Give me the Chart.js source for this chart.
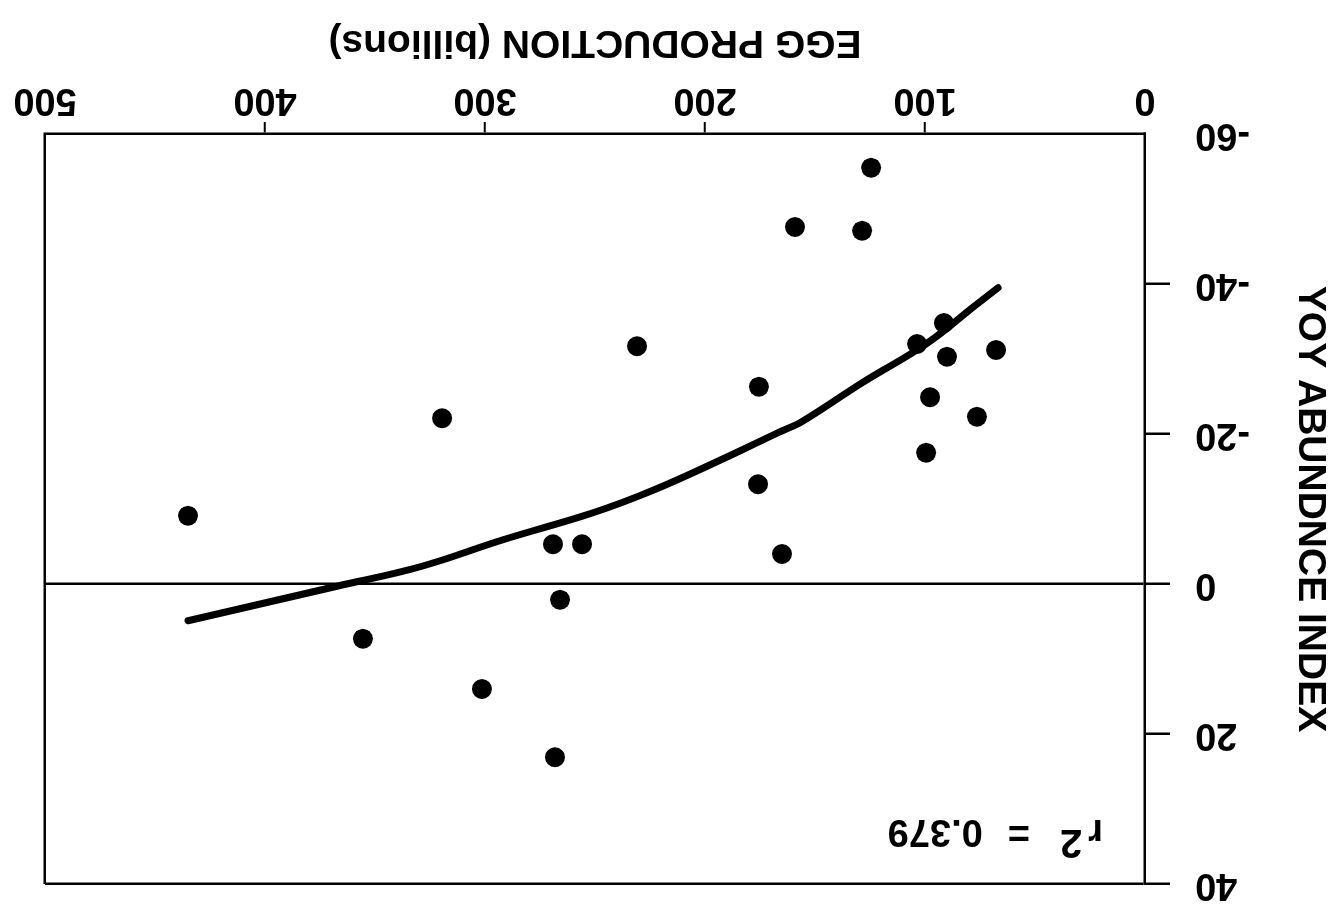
<!DOCTYPE html>
<html>
<head>
<meta charset="utf-8">
<script src="https://cdn.jsdelivr.net/npm/chart.js@4/dist/chart.umd.min.js"></script>
<style>
  html, body { margin: 0; padding: 0; background: #ffffff; }
  #wrap { width: 1340px; height: 909px; position: relative; }
  #c { display: block; transform: rotate(180deg); }
</style>
</head>
<body>
<div id="wrap"><canvas id="c" width="1340" height="909"></canvas></div>
<script>
// ---- data ----
const eggProduction = [124.5, 159.1, 128.6, 91.4, 103.6, 90.0, 67.7, 230.9, 175.5, 97.7, 76.4, 319.5, 99.5, 175.9, 435.0, 269.1, 255.9, 165.0, 265.9, 355.5, 301.4, 268.2];
const yoyIndex      = [-55.5, -47.6, -47.1, -34.8, -32.0, -30.3, -31.2, -31.7, -26.3, -24.9, -22.3, -22.1, -17.5, -13.3, -9.1, -5.3, -5.3, -4.0, 2.1, 7.3, 14.0, 23.1];
const fitEgg = [66.8, 78.2, 99.1, 128.2, 156.8, 165.9, 193.2, 223.6, 250.9, 291.8, 329.5, 367.3, 435.0];
const fitYoy = [-39.5, -36.9, -32.1, -26.9, -21.5, -20.3, -16.5, -12.5, -9.5, -5.9, -2.3, 0.3, 4.9];
const xTickValues = [0, 100, 200, 300, 400, 500];
const yTickValues = [-60, -40, -20, 0, 20, 40];
const xTitle = 'EGG PRODUCTION (billions)';
const yTitle = 'YOY ABUNDNCE INDEX';
const r2Label = ['r', '2', '=', '0.379'];

const FONT = '"Liberation Sans", Arial, Helvetica, sans-serif';

const points = eggProduction.map((x, i) => ({ x: x, y: yoyIndex[i] }));
const fit = fitEgg.map((x, i) => ({ x: x, y: fitYoy[i] }));

const r2Plugin = {
  id: 'r2text',
  afterDatasetsDraw(chart) {
    const { ctx, chartArea } = chart;
    ctx.save();
    ctx.fillStyle = '#000';
    ctx.textBaseline = 'alphabetic';
    ctx.textAlign = 'left';
    ctx.font = 'bold 38px ' + FONT;
    const base = chartArea.top + 64;
    let x = chartArea.left + 42;
    ctx.fillText(r2Label[0], x, base);
    x += ctx.measureText(r2Label[0]).width + 6;
    ctx.font = 'bold 40px ' + FONT;
    ctx.fillText(r2Label[1], x, base - 10);
    x += ctx.measureText(r2Label[1]).width + 30;
    ctx.font = 'bold 38px ' + FONT;
    ctx.fillText(r2Label[2], x, base);
    x += ctx.measureText(r2Label[2]).width + 25;
    ctx.fillText(r2Label[3], x, base);
    ctx.restore();
  }
};

new Chart(document.getElementById('c'), {
  type: 'scatter',
  data: {
    datasets: [
      {
        label: 'fit',
        type: 'line',
        data: fit,
        borderColor: '#000',
        borderWidth: 7,
        borderCapStyle: 'round',
        borderJoinStyle: 'round',
        pointRadius: 0,
        tension: 0.4,
        fill: false
      },
      {
        label: 'observations',
        data: points,
        backgroundColor: '#000',
        borderColor: '#000',
        pointRadius: 10,
        pointHoverRadius: 10,
        borderWidth: 0
      }
    ]
  },
  options: {
    responsive: false,
    animation: false,
    devicePixelRatio: 1,
    layout: { padding: { top: 25, right: 45, left: 0, bottom: 0 } },
    plugins: { legend: { display: false }, tooltip: { enabled: false } },
    scales: {
      x: {
        type: 'linear',
        position: 'bottom',
        min: 0, max: 500,
        afterBuildTicks: s => { s.ticks = xTickValues.map(v => ({ value: v })); },
        afterFit: s => { s.height = 134; s.paddingLeft = 0; s.paddingRight = 0; },
        border: { display: true, color: '#000', width: 2.5 },
        grid: {
          drawOnChartArea: true,
          color: c => (c.tick && c.tick.value === 500) ? '#000' : 'rgba(0,0,0,0)',
          lineWidth: 2.5,
          drawTicks: true,
          tickLength: 12,
          tickWidth: 2,
          tickColor: c => (c.tick && (c.tick.value === 0 || c.tick.value === 500)) ? 'rgba(0,0,0,0)' : '#000'
        },
        ticks: {
          color: '#000',
          padding: 0,
          maxRotation: 0,
          font: { family: FONT, size: 38, weight: 'bold' }
        },
        title: {
          display: true,
          text: xTitle,
          color: '#000',
          padding: { top: 4, bottom: 18 },
          font: { family: FONT, size: 39, weight: 'bold' }
        }
      },
      y: {
        type: 'linear',
        position: 'left',
        min: -60, max: 40,
        afterBuildTicks: s => { s.ticks = yTickValues.map(v => ({ value: v })); },
        afterFit: s => { s.width = 195; s.paddingTop = 0; s.paddingBottom = 0; },
        border: { display: true, color: '#000', width: 2.5 },
        grid: {
          drawOnChartArea: true,
          color: c => (c.tick && (c.tick.value === 0 || c.tick.value === 40)) ? '#000' : 'rgba(0,0,0,0)',
          lineWidth: 2.5,
          drawTicks: true,
          tickLength: 25,
          tickWidth: 2.5,
          tickColor: c => (c.tick && c.tick.value === -60) ? 'rgba(0,0,0,0)' : '#000'
        },
        ticks: {
          color: '#000',
          padding: 25,
          font: { family: FONT, size: 38, weight: 'bold' }
        },
        title: {
          display: true,
          text: yTitle,
          color: '#000',
          padding: { top: 7, bottom: 0 },
          font: { family: FONT, size: 39, weight: 'bold' }
        }
      }
    }
  },
  plugins: [r2Plugin]
});
</script>
</body>
</html>
